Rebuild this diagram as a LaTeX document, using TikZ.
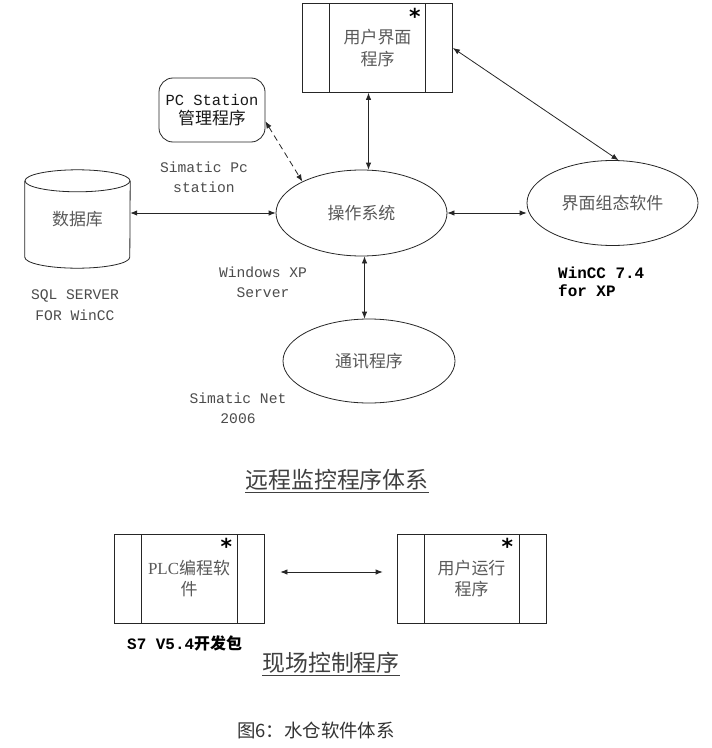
\documentclass[tikz,border=0pt]{standalone}
\usepackage{fontspec}
\setmainfont{Liberation Serif}
\setmonofont{Liberation Mono}
\newfontfamily\cjk{Noto Sans CJK SC}
\newfontfamily\symf{DejaVu Sans}
\usetikzlibrary{arrows.meta,shapes.geometric}
\tikzset{
  ln/.style={draw=black!85, line width=0.8bp},
  procbox/.style={ln, rectangle, minimum width=150bp, minimum height=89bp, inner sep=0pt,
    text=black!65, align=center, font=\fontsize{17}{22}\selectfont\cjk,
    path picture={
      \draw[black!85,line width=0.8bp] ([xshift=27bp]path picture bounding box.north west) -- ([xshift=27bp]path picture bounding box.south west);
      \draw[black!85,line width=0.8bp] ([xshift=-27bp]path picture bounding box.north east) -- ([xshift=-27bp]path picture bounding box.south east);}},
  ell/.style={ln, ellipse, minimum width=171bp, minimum height=86bp, inner sep=0pt,
    text=black!65, font=\fontsize{17}{22}\selectfont\cjk},
  lbl/.style={text=black!70, align=center, inner sep=0pt, font=\fontsize{14.7}{20.5}\selectfont\ttfamily},
  blbl/.style={text=black, align=left, inner sep=0pt, font=\fontsize{16}{18}\selectfont\ttfamily\bfseries},
  startxt/.style={inner sep=0pt, anchor=base, font=\fontsize{22}{22}\selectfont\symf\bfseries},
  arr/.style={black!85, line width=0.8bp, {Latex[length=7bp,width=5.5bp]}-{Latex[length=7bp,width=5.5bp]}},
  ttl/.style={text=black!75, inner sep=0pt, font=\fontsize{23}{26}\selectfont\cjk},
}
\begin{document}
\begin{tikzpicture}[x=1bp,y=-1bp]
\useasboundingbox[fill=white] (0,0) rectangle (712,748);

% nodes
\node[procbox] (ui) at (377.5,48) {用户界面\\程序};
\node[startxt] (uistar) at ([xshift=-38bp,yshift=-21bp]ui.north east) {*};

\node[ln, rectangle, rounded corners=14bp, minimum width=106bp, minimum height=64bp, inner sep=0pt,
  align=center, text=black!90, font=\fontsize{15.5}{19}\selectfont] (pc) at (212,110)
  {{\ttfamily PC Station}\\{\fontsize{17}{19}\selectfont\cjk 管理程序}};

\node[minimum width=105bp, minimum height=98bp, inner sep=0pt, text=black!65,
  font=\fontsize{17}{22}\selectfont\cjk] (db) at (77.5,219) {数据库};
\draw[ln] ([yshift=-11bp]db.north) ellipse [x radius=52.5, y radius=11];
\draw[ln] ([yshift=-11bp]db.north west) -- ([yshift=11bp]db.south west)
  arc[start angle=180, end angle=0, x radius=52.5, y radius=11] -- ([yshift=-11bp]db.north east);

\node[ell] (os) at (361.5,213) {操作系统};
\node[ell, minimum height=85bp] (cfg) at (612.5,203) {界面组态软件};
\node[ell, minimum width=172bp, minimum height=84bp] (comm) at (369,361) {通讯程序};

\node[procbox] (plc) at (189,578.5) {{\rmfamily PLC}编程软\\件};
\node[startxt] (plcstar) at ([xshift=-38bp,yshift=-21bp]plc.north east) {*};
\node[procbox, minimum width=149bp] (run) at (471.5,578.5) {用户运行\\程序};
\node[startxt] (runstar) at ([xshift=-39bp,yshift=-21bp]run.north east) {*};

% labels
\node[lbl] (simpc) at (204,177) {Simatic Pc\\station};
\node[lbl] (winxp) at (263,282) {Windows XP\\Server};
\node[lbl] (sql) at (75,305) {SQL SERVER\\FOR WinCC};
\node[lbl] (snet) at (238,408) {Simatic Net\\2006};
\node[blbl, anchor=west] (wincc) at (558,282) {WinCC 7.4\\for XP};
\node[blbl, anchor=west] (s7) at (127,643) {S7 V5.4{\cjk 开发包}};

\node[ttl] (t1) at (337,481) {\underline{远程监控程序体系}};
\node[ttl] (t2) at (331,664) {\underline{现场控制程序}};
\node[text=black!80, inner sep=0pt, font=\fontsize{18.5}{20}\selectfont\cjk] (cap) at (316,730) {图6：水仓软件体系};

% connectors
\draw[arr] ([xshift=7bp]os.north) -- ([xshift=7bp]os.north |- ui.south);
\draw[arr] ([xshift=3bp]os.south) -- ([xshift=3bp]os.south |- comm.north);
\draw[arr, dash pattern=on 6bp off 4bp] (pc.-12) -- (os.152);
\draw[arr] (os.west) -- (os.west -| db.east);
\draw[arr] (os.east) -- (os.east -| cfg.west);
\draw[arr] (ui.east) -- (cfg.82);
\draw[arr] ([xshift=16bp,yshift=6.5bp]plc.east) -- ([xshift=-14bp,yshift=6.5bp]run.west);
\end{tikzpicture}
\end{document}
